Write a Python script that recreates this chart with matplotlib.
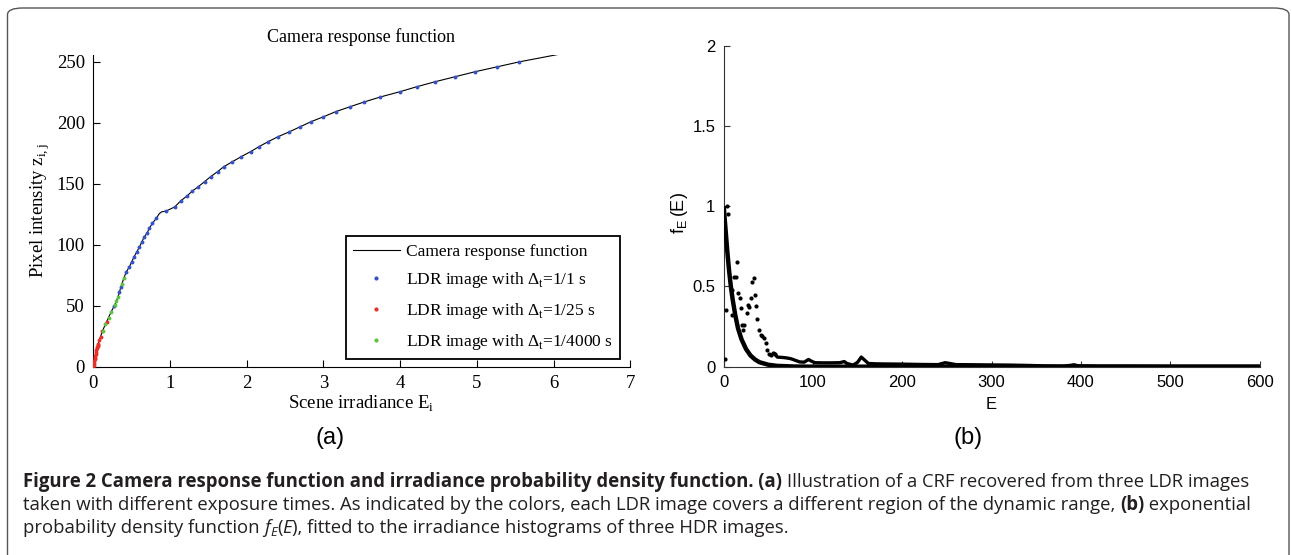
import matplotlib
matplotlib.use("Agg")
import matplotlib.pyplot as plt
from matplotlib.patches import FancyBboxPatch

# ─────────────────────────────────────────────
# Data
# ─────────────────────────────────────────────
# (a) camera response function, line knots
crf_E = [0.0, 0.03, 0.065, 0.117, 0.174, 0.23, 0.28, 0.32, 0.36, 0.40, 0.43, 0.47,
         0.50, 0.53, 0.565, 0.60, 0.63, 0.66, 0.70, 0.73, 0.77, 0.82, 0.86, 0.89,
         0.95, 1.06, 1.14, 1.22, 1.29, 1.37, 1.45, 1.53, 1.62, 1.70, 1.81, 1.92,
         2.05, 2.16, 2.28, 2.41, 2.55, 2.69, 2.84, 3.00, 3.16, 3.35, 3.53, 3.74,
         4.00, 4.22, 4.46, 4.72, 4.98, 5.26, 5.55, 6.05]
crf_Z = [0, 8, 19, 29, 37, 44.6, 50.8, 56.8, 65.4, 73, 77.8, 81.9,
         86, 90, 94, 98, 102, 106, 109.5, 113.5, 117.6, 121.6, 125.5, 127,
         127.7, 131, 136, 140, 144, 147.7, 151.8, 155.9, 160, 164, 168, 172,
         176.4, 180.5, 184.6, 188.7, 192.5, 196.6, 201, 205, 209.2, 213.3, 217.1, 221.2,
         225.6, 229.7, 233.8, 237.9, 242, 245.9, 250, 256]

# LDR samples, exposure 1/1 s (blue)
blue_E = [0.27, 0.34, 0.36, 0.43, 0.47, 0.50, 0.53, 0.565, 0.60, 0.63, 0.66, 0.70,
          0.73, 0.77, 0.82, 0.95, 1.06, 1.14, 1.22, 1.29, 1.37, 1.45, 1.53, 1.62,
          1.70, 1.81, 1.92, 2.05, 2.16, 2.28, 2.41, 2.55, 2.69, 2.84, 3.00, 3.16,
          3.35, 3.53, 3.74, 4.00, 4.22, 4.46, 4.72, 4.98, 5.26, 5.55]
blue_Z = [49.4, 61.6, 65.4, 77.8, 81.9, 86, 90, 94, 98, 102, 106, 109.5,
          113.5, 117.6, 121.6, 127.7, 131, 136, 140, 144, 147.7, 151.8, 155.9, 160,
          164, 168, 172, 176.4, 180.5, 184.6, 188.7, 192.5, 196.6, 201, 205, 209.2,
          213.3, 217.1, 221.2, 225.6, 229.7, 233.8, 237.9, 242, 245.9, 250]

# exposure 1/25 s (red)
red_E = [0.0, 0.004, 0.008, 0.012, 0.016, 0.02, 0.025, 0.03, 0.035, 0.04, 0.045,
         0.05, 0.055, 0.06, 0.065, 0.08, 0.096, 0.117, 0.174]
red_Z = [0, 1.5, 3, 4.5, 6, 7.5, 9, 10.5, 12, 13.5, 15,
         16, 17, 18, 19, 21.5, 24, 29, 37]

# exposure 1/4000 s (green)
green_E = [0.12, 0.152, 0.20, 0.23, 0.28, 0.30, 0.32, 0.37, 0.40]
green_Z = [29, 35, 40, 44.6, 50.8, 54, 56.8, 68, 73]

# (b) irradiance pdf: histogram samples and exponential fit
hist_E = [1.5, 2.2, 3.3, 4.8, 8.8, 9.5, 11.4, 13.3, 14.4, 16.3, 17.8, 19.3, 20.8,
          21.9, 22.7, 25.6, 27.5, 28.2, 30.4, 31.9, 33.7, 35.6, 36.3, 37.8, 39.3,
          41.6, 43.1, 45.3, 46.8, 48.7, 50.6, 52.4, 55.0, 57.3]
hist_f = [0.046, 0.353, 1.0, 0.95, 0.478, 0.32, 0.56, 0.56, 0.654, 0.457, 0.426, 0.364, 0.26,
          0.229, 0.26, 0.336, 0.385, 0.373, 0.426, 0.53, 0.55, 0.447, 0.38, 0.30, 0.229,
          0.198, 0.19, 0.177, 0.15, 0.104, 0.079, 0.072, 0.086, 0.08]

tail_E = [57, 60, 65, 70, 75, 80, 85, 90, 95, 98, 102, 110, 120, 130, 135, 138, 145,
          150, 154, 157, 162, 170, 180, 200, 220, 240, 248, 253, 260, 280, 300, 320,
          340, 360, 380, 388, 392, 397, 420, 450, 500, 550, 600]
tail_f = [0.08, 0.06, 0.058, 0.055, 0.05, 0.04, 0.03, 0.028, 0.045, 0.035, 0.025, 0.024,
          0.024, 0.025, 0.032, 0.02, 0.01, 0.028, 0.06, 0.045, 0.02, 0.018, 0.017, 0.016,
          0.014, 0.013, 0.025, 0.02, 0.013, 0.012, 0.011, 0.01, 0.008, 0.005, 0.004,
          0.008, 0.012, 0.006, 0.004, 0.004, 0.003, 0.003, 0.003]

fit_E = [0, 2, 4, 6, 8, 10, 13, 16, 20, 25, 30, 35, 40, 50, 60, 80, 100, 600]
fit_f = [1.0, 0.86, 0.72, 0.6, 0.5, 0.42, 0.32, 0.24, 0.17, 0.11, 0.07, 0.045,
         0.028, 0.012, 0.005, 0.001, 0.0, 0.0]

W, H = 1292, 555

plt.rcParams["mathtext.fontset"] = "custom"
plt.rcParams["mathtext.rm"] = "Liberation Serif"
plt.rcParams["mathtext.sf"] = "Liberation Sans"

fig = plt.figure(figsize=(W / 100, H / 100), dpi=100)

# outer rounded frame of the figure panel
frame = FancyBboxPatch((7.5 / W, -30 / H), (1289 - 7.5) / W, (547 + 30) / H,
                       boxstyle="round,pad=0,rounding_size=0.012",
                       transform=fig.transFigure, fill=False,
                       edgecolor="#555555", linewidth=1.0)
fig.patches.append(frame)

serif = "Liberation Serif"
sans = "Liberation Sans"

# ── (a) CRF ──
ax = fig.add_axes([93.3 / W, (H - 366.7) / H, (630.2 - 93.3) / W, (366.7 - 54.6) / H])
ax.plot(crf_E, crf_Z, color="black", lw=0.8, label="Camera response function", zorder=2)
ax.plot(blue_E, blue_Z, ls="none", marker="o", ms=2.8, mew=0, color="#3553c4",
        label=r"LDR image with $\Delta_{\mathrm{t}}$=1/1 s", zorder=3)
ax.plot(red_E, red_Z, ls="none", marker="o", ms=2.8, mew=0, color="#e8302a",
        label=r"LDR image with $\Delta_{\mathrm{t}}$=1/25 s", zorder=3)
ax.plot(green_E, green_Z, ls="none", marker="o", ms=2.8, mew=0, color="#5cc442",
        label=r"LDR image with $\Delta_{\mathrm{t}}$=1/4000 s", zorder=3)
ax.set_xlim(0, 7)
ax.set_ylim(0, 256)
ax.set_xticks(range(8))
ax.set_yticks([0, 50, 100, 150, 200, 250])
for s in ("top", "right"):
    ax.spines[s].set_visible(False)
ax.tick_params(direction="in", length=5, width=0.8, labelsize=13.5, pad=6)
for lab in ax.get_xticklabels() + ax.get_yticklabels():
    lab.set_family(serif)
leg = ax.legend(loc="lower right", bbox_to_anchor=(0.981, 0.024), numpoints=1,
                prop={"family": serif, "size": 12.5}, fancybox=False, framealpha=1,
                edgecolor="black", handlelength=2.7, labelspacing=0.62,
                borderpad=0.42, handletextpad=0.35, borderaxespad=0)
leg.get_frame().set_linewidth(1.3)
for h in leg.legend_handles[1:]:
    h.set_markersize(3)

fig.text(361 / W, (H - 37) / H, "Camera response function", family=serif,
         fontsize=13, ha="center", va="center")
fig.text(40 / W, (H - 210) / H, r"Pixel intensity z$_{\mathrm{i,j}}$", family=serif,
         fontsize=13.5, rotation=90, ha="center", va="center")
fig.text(361 / W, (H - 404) / H, r"Scene irradiance E$_{\mathrm{i}}$", family=serif,
         fontsize=13.5, ha="center", va="center")
fig.text(330 / W, (H - 438) / H, "(a)", family=sans, fontsize=17,
         ha="center", va="center")

# ── (b) irradiance pdf ──
bx = fig.add_axes([723.7 / W, (H - 366.7) / H, (1259.6 - 723.7) / W, (366.7 - 45.7) / H])
bx.plot(tail_E, tail_f, color="black", lw=2.4, zorder=2)
bx.plot(hist_E, hist_f, ls="none", marker="o", ms=3.0, mew=0, color="black", zorder=3)
bx.plot(fit_E, fit_f, color="black", lw=3.2, solid_capstyle="butt", zorder=4)
bx.set_xlim(0, 600)
bx.set_ylim(0, 2)
bx.set_xticks(range(0, 601, 100))
bx.set_yticks([0, 0.5, 1, 1.5, 2])
bx.set_yticklabels(["0", "0.5", "1", "1.5", "2"])
for s in ("top", "right"):
    bx.spines[s].set_visible(False)
for s in ("left", "bottom"):
    bx.spines[s].set_color("#333333")
bx.tick_params(direction="in", length=4, width=0.8, labelsize=12, pad=6,
               color="#333333")
for lab in bx.get_xticklabels() + bx.get_yticklabels():
    lab.set_family(sans)
bx.set_xlabel("E", family=sans, fontsize=12, labelpad=5)
fig.text(679 / W, (H - 213) / H, r"$\mathsf{f_{E}\,(E)}$", fontsize=13,
         rotation=90, ha="center", va="center")
fig.text(968 / W, (H - 438) / H, "(b)", family=sans, fontsize=17,
         ha="center", va="center")

# ── caption, drawn run by run so bold/italic pieces line up ──
cap_font = ["Open Sans", "DejaVu Sans"]
cap_color = "#231f20"
renderer = fig.canvas.get_renderer()

line1 = [
    ("Figure 2 Camera response function and irradiance probability density function. (a) ",
     "bold", "normal", 1.0, 0),
    ("Illustration of a CRF recovered from three LDR images", "normal", "normal", 1.0, 0),
]
line2 = [
    ("taken with different exposure times. As indicated by the colors, each LDR image covers "
     "a different region of the dynamic range, ", "normal", "normal", 1.0, 0),
    ("(b)", "bold", "normal", 1.0, 0),
    (" exponential", "normal", "normal", 1.0, 0),
]
line3 = [
    ("probability density function ", "normal", "normal", 1.0, 0),
    ("f", "normal", "italic", 1.0, 0),
    ("E", "normal", "italic", 0.7, 4),
    ("(", "normal", "normal", 1.0, 0),
    ("E", "normal", "italic", 1.0, 0),
    ("), fitted to the irradiance histograms of three HDR images.", "normal", "normal",
     1.0, 0),
]


def draw_runs(x0, y_top, runs, size):
    x = x0
    made = []
    for text, weight, style, scale, dy in runs:
        t = fig.text(x, H - y_top - dy, text, transform=None, family=cap_font,
                     fontsize=size * scale, fontweight=weight, fontstyle=style,
                     color=cap_color, ha="left", va="center")
        x = t.get_window_extent(renderer).x1
        made.append(t)
    return x, made


# size the caption so the first line spans the same width as in the original
end, tmp = draw_runs(23, 482, line1, 12.0)
for t in tmp:
    t.remove()
cap_size = 12.0 * (1244 - 23) / (end - 23)

draw_runs(23, 482, line1, cap_size)
draw_runs(23, 505, line2, cap_size)
draw_runs(23, 528, line3, cap_size)

fig.savefig("out.png", dpi=100)
